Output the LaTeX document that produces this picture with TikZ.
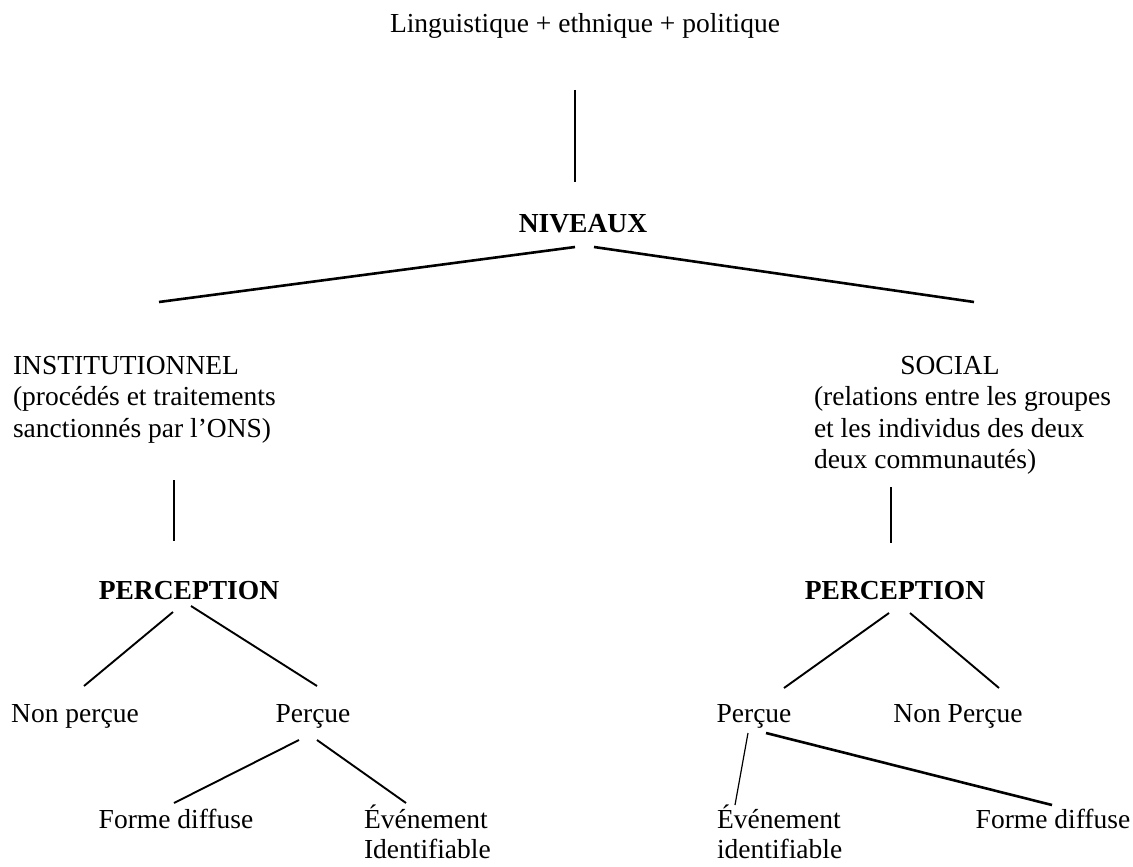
\documentclass[tikz,border=0pt]{standalone}
\usepackage{fontspec}
\setmainfont{Liberation Serif}
\usetikzlibrary{calc}
\tikzset{
  lbl/.style={inner sep=0pt, outer sep=0pt, font=\fontsize{27.5}{31.5}\selectfont},
  lblb/.style={lbl, font=\fontsize{27.5}{31.5}\selectfont\bfseries},
  lbltwo/.style={inner sep=0pt, outer sep=0pt, font=\fontsize{27.5}{30}\selectfont},
  thinline/.style={line width=1.2pt},
  midline/.style={line width=1.9pt},
  heavyline/.style={line width=2.6pt}
}
\begin{document}
\begin{tikzpicture}[x=1pt,y=-1pt]
\useasboundingbox (0,0) rectangle (1133,867);
% nodes
\node[lbl, anchor=base] (title) at (585,33) {Linguistique + ethnique + politique};
\node[lblb, anchor=base] (niv) at (583,232) {NIVEAUX};
\node[lbl, anchor=base west] (inst) at (13,374) {\begin{tabular}[t]{@{}l@{}}INSTITUTIONNEL\\(procédés et traitements\\sanctionnés par l’ONS)\end{tabular}};
\node[lbl, anchor=base] (soc) at (950,374) {SOCIAL};
\node[lbl, anchor=base west] (socd) at (814,405.5) {\begin{tabular}[t]{@{}l@{}}(relations entre les groupes\\et les individus des deux\\deux communautés)\end{tabular}};
\node[lblb, anchor=base] (percL) at (189,599) {PERCEPTION};
\node[lblb, anchor=base] (percR) at (895,599) {PERCEPTION};
\node[lbl, anchor=base] (nonL) at (75,722) {Non perçue};
\node[lbl, anchor=base] (perL) at (313,722) {Perçue};
\node[lbl, anchor=base] (perR) at (754,722) {Perçue};
\node[lbl, anchor=base] (nonR) at (958,722) {Non Perçue};
\node[lbl, anchor=base] (formeL) at (176,828) {Forme diffuse};
\node[lbltwo, anchor=base west] (evL) at (364,828) {\begin{tabular}[t]{@{}l@{}}Événement\\Identifiable\end{tabular}};
\node[lbltwo, anchor=base west] (evR) at (717,828) {\begin{tabular}[t]{@{}l@{}}Événement\\identifiable\end{tabular}};
\node[lbl, anchor=base] (formeR) at (1053,828) {Forme diffuse};
% connectors
\draw[thinline] ($(title.base)+(-10,57)$) -- ($(niv.base)+(-8,-50)$);
\draw[heavyline] ($(niv.base)+(-8,15)$) -- ($(inst.base west)+(146,-72)$);
\draw[heavyline] ($(niv.base)+(11,15)$) -- ($(soc.base)+(24,-72)$);
\draw[thinline] ($(inst.base west)+(161,106)$) -- ($(percL.base)+(-15,-58)$);
\draw[thinline] ($(socd.base west)+(77,81.5)$) -- ($(percR.base)+(-4,-56)$);
\draw[midline] ($(percL.base)+(-16,13)$) -- ($(nonL.base)+(9,-36)$);
\draw[midline] ($(percL.base)+(2,7)$) -- ($(perL.base)+(4,-36)$);
\draw[midline] ($(perL.base)+(-14,18)$) -- ($(formeL.base)+(-2,-25)$);
\draw[midline] ($(perL.base)+(4,18)$) -- ($(evL.base west)+(42,-25)$);
\draw[midline] ($(percR.base)+(-6,14)$) -- ($(perR.base)+(30,-34)$);
\draw[midline] ($(percR.base)+(15,14)$) -- ($(nonR.base)+(41,-34)$);
\draw[thinline] ($(perR.base)+(-6,11)$) -- ($(evR.base west)+(18,-23)$);
\draw[heavyline] ($(perR.base)+(12,11)$) -- ($(formeR.base)+(-1,-23)$);
\end{tikzpicture}
\end{document}
